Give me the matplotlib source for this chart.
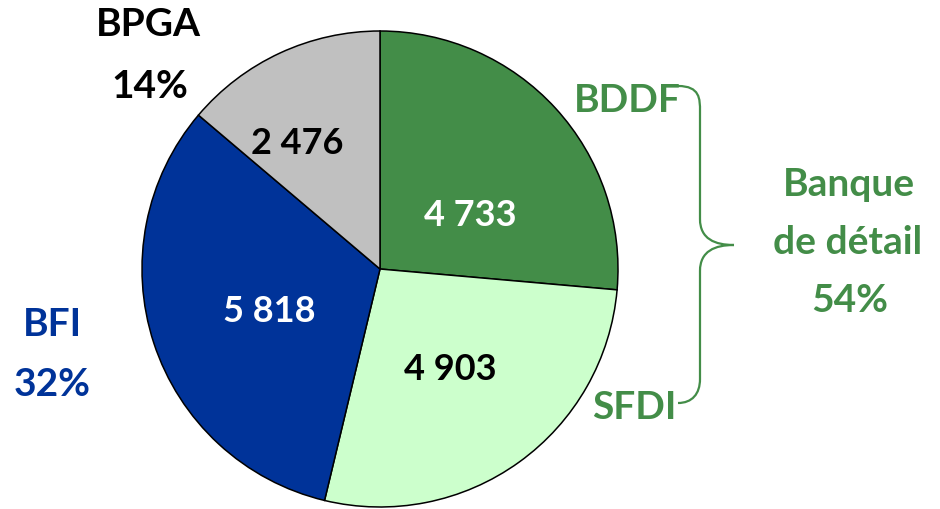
"""Répartition par métier : pie chart with a brace grouping retail banking."""

import matplotlib

matplotlib.use("Agg")
import matplotlib.pyplot as plt
from matplotlib.path import Path
from matplotlib.patches import PathPatch

plt.rcParams["font.family"] = ["Lato", "DejaVu Sans"]

# Data (clockwise from 12 o'clock)
segments = ["BDDF", "SFDI", "BFI", "BPGA"]
values = [4733, 4903, 5818, 2476]
value_labels = ["4 733", "4 903", "5 818", "2 476"]
seg_colors = ["#438D48", "#CCFFCC", "#003399", "#C0C0C0"]
value_colors = ["white", "black", "white", "black"]
retail_share = "54%"
bfi_share = "32%"
bpga_share = "14%"

GREEN = "#438D48"
BLUE = "#003399"
W, H = 940, 510


def py(y):
    """Convert a pixel row (from top) to data y."""
    return H - y


fig = plt.figure(figsize=(W / 100, H / 100), dpi=100)
ax = fig.add_axes([0, 0, 1, 1])

ax.pie(
    values, colors=seg_colors, startangle=90, counterclock=False,
    center=(380, py(270)), radius=238,
    wedgeprops={"edgecolor": "black", "linewidth": 1.1},
)
ax.set_xlim(0, W)
ax.set_ylim(0, H)
ax.set_aspect("auto")
ax.axis("off")

# values inside the slices
val_pos = [(470, 215), (450, 370), (269, 312), (297, 143)]
for (x, y), txt, c in zip(val_pos, value_labels, value_colors):
    ax.text(x, py(y), txt, color=c, fontsize=26, fontweight="bold",
            ha="center", va="center")

fs = 28
ax.text(148, py(24), segments[3], fontsize=fs, fontweight="bold",
        ha="center", va="center", color="black")
ax.text(150, py(86), bpga_share, fontsize=fs, fontweight="bold",
        ha="center", va="center", color="black")
ax.text(52, py(325), segments[2], fontsize=fs, fontweight="bold",
        ha="center", va="center", color=BLUE)
ax.text(52, py(385), bfi_share, fontsize=fs, fontweight="bold",
        ha="center", va="center", color=BLUE)
ax.text(627, py(100), segments[0], fontsize=fs, fontweight="bold",
        ha="center", va="center", color=GREEN)
ax.text(634, py(408), segments[1], fontsize=fs, fontweight="bold",
        ha="center", va="center", color=GREEN)
ax.text(849, py(185), "Banque", fontsize=fs, fontweight="bold",
        ha="center", va="center", color=GREEN)
ax.text(848, py(242), "de détail", fontsize=fs, fontweight="bold",
        ha="center", va="center", color=GREEN)
ax.text(850, py(300), retail_share, fontsize=fs, fontweight="bold",
        ha="center", va="center", color=GREEN)

# curly brace joining BDDF and SFDI
verts = [
    (678, py(87)), (700, py(87)), (700, py(100)), (700, py(112)),
    (700, py(220)),
    (700, py(240)), (715, py(246)), (734, py(246)),
    (715, py(246)), (700, py(252)), (700, py(272)),
    (700, py(380)),
    (700, py(395)), (692, py(404)), (678, py(404)),
]
codes = [
    Path.MOVETO, Path.CURVE4, Path.CURVE4, Path.CURVE4,
    Path.LINETO,
    Path.CURVE4, Path.CURVE4, Path.CURVE4,
    Path.CURVE4, Path.CURVE4, Path.CURVE4,
    Path.LINETO,
    Path.CURVE4, Path.CURVE4, Path.CURVE4,
]
ax.add_patch(PathPatch(Path(verts, codes), fill=False,
                       edgecolor=GREEN, linewidth=1.6))

fig.savefig("out.png", dpi=100)
